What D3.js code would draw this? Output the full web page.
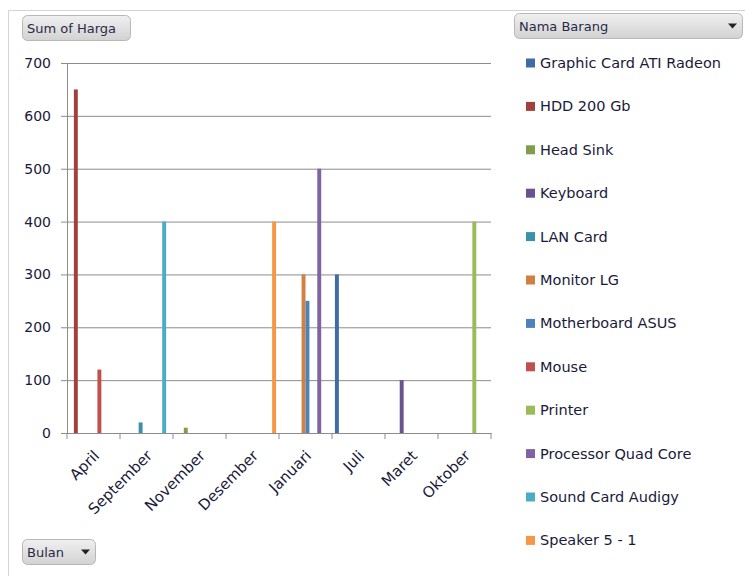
<!DOCTYPE html>
<html>
<head>
<meta charset="utf-8">
<script src="https://cdn.jsdelivr.net/npm/d3@7"></script>
<style>
  body { margin: 0; background: #fff; }
  text { font-family: "DejaVu Sans", Verdana, sans-serif; }
</style>
</head>
<body>
<svg width="745" height="576"></svg>
<script>
// bulan (kategori) dan barang (seri)
var months = ["April", "September", "November", "Desember", "Januari", "Juli", "Maret", "Oktober"];
var items = ["Graphic Card ATI Radeon", "HDD 200 Gb", "Head Sink", "Keyboard", "LAN Card", "Monitor LG",
             "Motherboard ASUS", "Mouse", "Printer", "Processor Quad Core", "Sound Card Audigy", "Speaker 5 - 1"];
var colors = ["#3f6ca6", "#a2403e", "#7f9d4a", "#6a5290", "#3b91a8", "#d0803f",
              "#4f81bd", "#c0504d", "#9bbb59", "#8064a2", "#4bacc6", "#f79646"];
// Sum of Harga, per bulan: [bulan, barang, nilai]
var sales = [
  ["April", "HDD 200 Gb", 650],
  ["April", "Mouse", 120],
  ["September", "LAN Card", 20],
  ["September", "Sound Card Audigy", 400],
  ["November", "Head Sink", 10],
  ["Desember", "Speaker 5 - 1", 400],
  ["Januari", "Monitor LG", 300],
  ["Januari", "Motherboard ASUS", 250],
  ["Januari", "Processor Quad Core", 500],
  ["Juli", "Graphic Card ATI Radeon", 300],
  ["Maret", "Keyboard", 100],
  ["Oktober", "Printer", 400]
];
var yTicks = [0, 100, 200, 300, 400, 500, 600, 700];

var svg = d3.select("svg"),
    margin = {top: 63, left: 67, right: 254, bottom: 143},
    width = 745 - margin.left - margin.right,
    height = 576 - margin.top - margin.bottom;

// bingkai chart
svg.append("path")
    .attr("d", "M8.5,576V10.5H745")
    .attr("fill", "none")
    .attr("stroke", "#d4d4d4");

var defs = svg.append("defs");
var grad = defs.append("linearGradient").attr("id", "btn").attr("x1", 0).attr("x2", 0).attr("y1", 0).attr("y2", 1);
grad.append("stop").attr("offset", "0%").attr("stop-color", "#f0f0f0");
grad.append("stop").attr("offset", "100%").attr("stop-color", "#d2d2d2");

var g = svg.append("g").attr("transform", "translate(" + margin.left + "," + margin.top + ")");

var x = d3.scaleBand().domain(months).range([0, width]);
// gap width 150% -> padding luar 0.75 bar di tiap sisi
var xs = d3.scaleBand().domain(items)
    .range([0, x.bandwidth()])
    .paddingInner(0)
    .paddingOuter(0.75);

var y = d3.scaleLinear().domain([0, 700]).range([height, 0]);
var color = d3.scaleOrdinal().domain(items).range(colors);

// grid + sumbu y
var yAxis = d3.axisLeft(y).tickValues(yTicks).tickSize(6).tickPadding(10);
g.append("g").call(function(a) {
  a.call(yAxis);
  a.select(".domain").attr("stroke", "#8c8c8c");
  a.selectAll(".tick line").attr("stroke", "#8c8c8c");
  a.selectAll(".tick text").attr("font-size", 14).attr("fill", "#1a1a3a");
  a.selectAll(".tick").append("line")
      .attr("x1", 0).attr("x2", width)
      .attr("stroke", "#8c8c8c");
});

// batang
g.append("g").selectAll("rect")
  .data(sales)
  .join("rect")
    .attr("x", function(d) { return x(d[0]) + xs(d[1]); })
    .attr("width", xs.bandwidth())
    .attr("y", function(d) { return y(d[2]); })
    .attr("height", function(d) { return height - y(d[2]); })
    .attr("fill", function(d) { return color(d[1]); });

// sumbu x
var xAxis = d3.axisBottom(x).tickSize(0).tickPadding(0);
var xg = g.append("g").attr("transform", "translate(0," + height + ")").call(xAxis);
xg.select(".domain").attr("stroke", "#8c8c8c");
xg.selectAll(".tick text")
    .attr("font-size", 15)
    .attr("fill", "#1a1a3a")
    .attr("text-anchor", "end")
    .attr("transform", "translate(3,20) rotate(-45)")
    .attr("dy", "0.35em");
xg.selectAll(".edge")
  .data(d3.range(months.length + 1))
  .join("line")
    .attr("x1", function(i) { return i * x.bandwidth(); })
    .attr("x2", function(i) { return i * x.bandwidth(); })
    .attr("y1", 0).attr("y2", 6)
    .attr("stroke", "#8c8c8c");

// legenda
var legend = svg.append("g").attr("transform", "translate(526,63)");
var row = legend.selectAll("g")
  .data(items)
  .join("g")
    .attr("transform", function(d, i) { return "translate(0," + (i * 43.4) + ")"; });
row.append("rect")
    .attr("x", 0).attr("y", -4.5)
    .attr("width", 9).attr("height", 9)
    .attr("fill", function(d) { return color(d); });
row.append("text")
    .attr("x", 14).attr("dy", "0.35em")
    .attr("font-size", 14.5)
    .attr("fill", "#1a1a3a")
    .text(function(d) { return d; });

// tombol pivot
function button(x0, y0, w, h, label, arrow) {
  var b = svg.append("g").attr("transform", "translate(" + x0 + "," + y0 + ")");
  b.append("rect")
      .attr("x", 0.5).attr("y", 0.5)
      .attr("width", w).attr("height", h)
      .attr("rx", 5)
      .attr("fill", "url(#btn)")
      .attr("stroke", "#b8b8b8");
  b.append("text")
      .attr("x", 5).attr("y", h / 2 + 1).attr("dy", "0.35em")
      .attr("font-size", 13)
      .attr("fill", "#2a2a4a")
      .text(label);
  if (arrow) {
    b.append("path")
        .attr("d", "M" + (w - 14) + "," + (h / 2 - 2) + "h9l-4.5,5z")
        .attr("fill", "#222");
  }
}
button(22, 15, 108, 25, "Sum of Harga", false);
button(514, 13, 228, 25, "Nama Barang", true);
button(22, 539, 73, 25, "Bulan", true);
</script>
</body>
</html>
